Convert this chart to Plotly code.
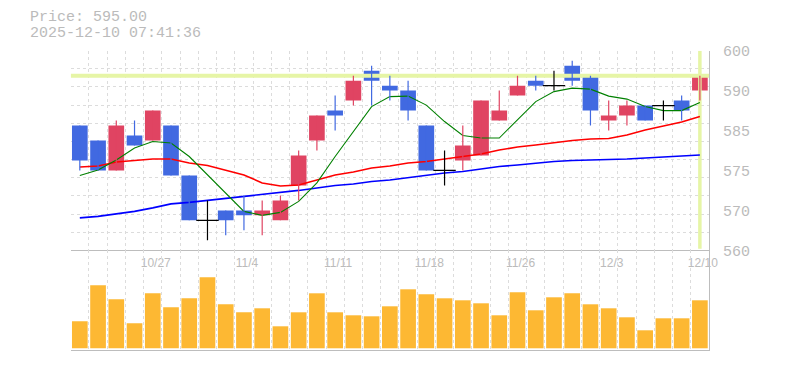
import plotly.graph_objects as go

# ---------------- data ----------------
dates = ["10/21", "10/22", "10/23", "10/24", "10/27", "10/28", "10/29", "10/30", "10/31",
         "11/4", "11/5", "11/6", "11/7", "11/10", "11/11", "11/12", "11/13", "11/14",
         "11/17", "11/18", "11/19", "11/20", "11/21", "11/25", "11/26", "11/27", "11/28",
         "12/1", "12/2", "12/3", "12/4", "12/5", "12/8", "12/9", "12/10"]
opens = [585, 582, 576, 583, 582, 585, 575, 566, 568, 568, 567, 566, 573, 582, 588, 590, 596, 593,
         592, 585, 576, 578, 579, 586, 591, 594, 593, 597, 595, 586, 587, 589, 589, 590, 592]
highs = [585, 582, 586, 586, 588, 585, 575, 570, 568, 571, 570, 571, 580, 587, 591, 595, 597, 595,
         594, 585, 580, 585, 590, 592, 595, 595, 596, 598, 595, 590, 590, 589, 590, 591, 595]
lows = [576, 576, 576, 581, 582, 575, 566, 562, 563, 564, 563, 566, 570, 580, 584, 589, 589, 590,
        586, 576, 573, 576, 579, 586, 591, 592, 592, 593, 585, 584, 585, 586, 586, 586, 590]
closes = [578, 576, 585, 581, 588, 575, 566, 566, 566, 567, 568, 570, 579, 587, 587, 594, 594, 592,
          588, 576, 576, 581, 590, 588, 593, 593, 593, 594, 588, 587, 589, 586, 589, 588, 595]
volume = [27, 63, 49, 25, 55, 41, 50, 71, 44, 36, 40, 22, 36, 55, 36, 33, 32, 42,
          59, 54, 50, 48, 45, 33, 56, 38, 51, 55, 44, 40, 31, 18, 30, 30, 48]
ma_short = [575.0, 576.1, 578.1, 580.5, 581.8, 581.5, 578.8, 575.1, 571.5, 567.8, 567.0, 567.6,
            569.8, 573.5, 578.8, 583.8, 588.8, 590.8, 590.9, 589.1, 585.8, 583.0, 582.5, 582.5,
            586.1, 589.8, 591.8, 592.5, 592.3, 590.9, 590.3, 588.8, 588.0, 588.0, 589.6]
ma_mid = [576.7, 576.9, 577.7, 578.0, 578.3, 578.3, 577.5, 577.0, 576.1, 575.1, 573.5, 572.9,
          573.1, 574.1, 575.1, 575.7, 576.5, 576.9, 577.5, 577.8, 578.3, 578.7, 579.3, 580.1,
          580.7, 581.1, 581.6, 582.0, 582.3, 582.4, 583.1, 584.1, 584.9, 585.7, 586.8]
ma_long = [566.5, 566.8, 567.3, 567.8, 568.5, 569.3, 569.6, 570.0, 570.3, 570.8, 571.1, 571.5,
           572.0, 572.5, 573.0, 573.3, 573.8, 574.1, 574.6, 575.0, 575.5, 575.8, 576.3, 576.8,
           577.1, 577.5, 577.8, 578.0, 578.1, 578.1, 578.3, 578.5, 578.7, 578.8, 579.1]
price_ticks = [560, 568, 576, 584, 592, 600]
price_tick_labels = ["560", "570", "575", "585", "590", "600"]
date_labels = ["10/27", "11/4", "11/11", "11/18", "11/26", "12/3", "12/10"]
timestamp = "2025-12-10 07:41:36"

# ---------------- styles ----------------
UP = "#e04462"
DOWN = "#4169e1"
DOJI = "#000000"
VOL = "#fdb833"
HL = "#e6f5a6"
GRID = "#dcdcdc"
AXIS = "#bdbdbd"
TXT = "#bbbbbb"

n = len(dates)
xs = list(range(n))
label_idx = [dates.index(d) for d in date_labels]
xr = [-0.5, n - 0.5]
yr = [price_ticks[0], price_ticks[-1]]

up_i = [i for i in xs if closes[i] > opens[i]]
dn_i = [i for i in xs if closes[i] < opens[i]]
dj_i = [i for i in xs if closes[i] == opens[i]]

fig = go.Figure()

# current price cross-hair (horizontal at last close, vertical at last bar)
fig.add_trace(go.Scatter(x=xr, y=[closes[-1], closes[-1]], mode="lines",
                         line=dict(color=HL, width=4), xaxis="x", yaxis="y", hoverinfo="skip"))
fig.add_trace(go.Scatter(x=[xs[-1], xs[-1]], y=[yr[0] + 0.3, yr[1]], mode="lines",
                         line=dict(color=HL, width=3.5), xaxis="x", yaxis="y", hoverinfo="skip"))

# moving averages
fig.add_trace(go.Scatter(x=xs, y=ma_long, mode="lines", line=dict(color="#0000ff", width=1.6),
                         xaxis="x", yaxis="y", hoverinfo="skip"))
fig.add_trace(go.Scatter(x=xs, y=ma_mid, mode="lines", line=dict(color="#ff0000", width=1.6),
                         xaxis="x", yaxis="y", hoverinfo="skip"))
fig.add_trace(go.Scatter(x=xs, y=ma_short, mode="lines", line=dict(color="#008000", width=1.1),
                         xaxis="x", yaxis="y", hoverinfo="skip"))


def wick_trace(idx, color):
    wx, wy = [], []
    for i in idx:
        wx += [i, i, None]
        wy += [lows[i], highs[i], None]
    return go.Scatter(x=wx, y=wy, mode="lines", line=dict(color=color, width=1.2),
                      xaxis="x", yaxis="y", hoverinfo="skip")


fig.add_trace(wick_trace(up_i, UP))
fig.add_trace(wick_trace(dn_i, DOWN))
fig.add_trace(wick_trace(dj_i, DOJI))

# candle bodies
fig.add_trace(go.Bar(x=up_i, y=[closes[i] - opens[i] for i in up_i], base=[opens[i] for i in up_i],
                     width=0.86, marker=dict(color=UP, line=dict(width=0)),
                     xaxis="x", yaxis="y", hoverinfo="skip"))
fig.add_trace(go.Bar(x=dn_i, y=[opens[i] - closes[i] for i in dn_i], base=[closes[i] for i in dn_i],
                     width=0.86, marker=dict(color=DOWN, line=dict(width=0)),
                     xaxis="x", yaxis="y", hoverinfo="skip"))
fig.add_trace(go.Scatter(x=dj_i, y=[closes[i] for i in dj_i], mode="markers",
                         marker=dict(symbol="line-ew", size=16, line=dict(color=DOJI, width=1.2)),
                         xaxis="x", yaxis="y", hoverinfo="skip"))

# volume
fig.add_trace(go.Bar(x=xs, y=volume, width=0.86, marker=dict(color=VOL, line=dict(width=0)),
                     xaxis="x2", yaxis="y2", hoverinfo="skip"))

# invisible trace to activate label axes
fig.add_trace(go.Scatter(x=xs, y=closes, mode="markers", marker=dict(size=1, opacity=0),
                         xaxis="x3", yaxis="y3", hoverinfo="skip"))

W, H = 785, 370
xd = [70.7 / W, 709 / W]
yd_price = [(H - 250.3) / H, (H - 50.7) / H]
yd_vol = [(H - 350) / H, (H - 250.3) / H]

common_x = dict(range=xr, tickmode="linear", tick0=-0.5, dtick=1, showgrid=True,
                gridcolor=GRID, gridwidth=1, griddash="3px,3px", showticklabels=False,
                showline=True, linecolor=AXIS, linewidth=1.2, zeroline=False, ticks="",
                fixedrange=True, automargin=False)

fig.update_layout(
    width=W, height=H, margin=dict(l=0, r=0, t=0, b=0, pad=0), autosize=False,
    paper_bgcolor="white", plot_bgcolor="white",
    showlegend=False, barmode="overlay", hovermode=False,
    xaxis=dict(domain=xd, anchor="y", **common_x),
    xaxis2=dict(domain=xd, anchor="y2", **common_x),
    xaxis3=dict(overlaying="x", anchor="y", side="bottom", range=xr, tickmode="array",
                tickvals=label_idx, ticktext=date_labels, showgrid=False, showline=False,
                zeroline=False, ticks="outside", ticklen=1, tickcolor="rgba(0,0,0,0)",
                automargin=False, ticklabelshift=3,
                tickfont=dict(family="Liberation Sans", size=12, color=TXT)),
    yaxis=dict(domain=yd_price, anchor="x", side="right", range=yr,
               tickmode="linear", tick0=yr[0], dtick=(yr[1] - yr[0]) / 11,
               showgrid=True, gridcolor=GRID, gridwidth=1, griddash="3px,3px",
               showticklabels=False, showline=True, linecolor=AXIS, linewidth=1.2,
               zeroline=False, ticks="", automargin=False),
    yaxis3=dict(overlaying="y", anchor="x", side="right", range=yr,
                tickmode="array", tickvals=price_ticks, ticktext=price_tick_labels,
                showgrid=False, showline=False, zeroline=False, ticks="outside", ticklen=10,
                tickcolor="rgba(0,0,0,0)", automargin=False,
                tickfont=dict(family="Liberation Mono", size=15, color=TXT)),
    yaxis2=dict(domain=yd_vol, anchor="x2", side="right", range=[-1.7, 98], showgrid=False,
                showticklabels=False, showline=True, linecolor=AXIS, linewidth=1.2,
                zeroline=False, ticks="", automargin=False),
)

fig.add_annotation(xref="paper", yref="paper", x=29 / W, y=(H - 17.5) / H, xanchor="left",
                   yanchor="middle", showarrow=False, text=f"Price: {closes[-1]:.2f}", borderpad=0,
                   font=dict(family="Liberation Mono", size=15, color=TXT))
fig.add_annotation(xref="paper", yref="paper", x=29 / W, y=(H - 34) / H, xanchor="left",
                   yanchor="middle", showarrow=False, text=timestamp, borderpad=0,
                   font=dict(family="Liberation Mono", size=15, color=TXT))

fig.write_html("out.html", config={"displayModeBar": False},
               post_script="document.body.style.margin='0';document.body.style.padding='0';"
                           "document.documentElement.style.overflow='hidden';")
